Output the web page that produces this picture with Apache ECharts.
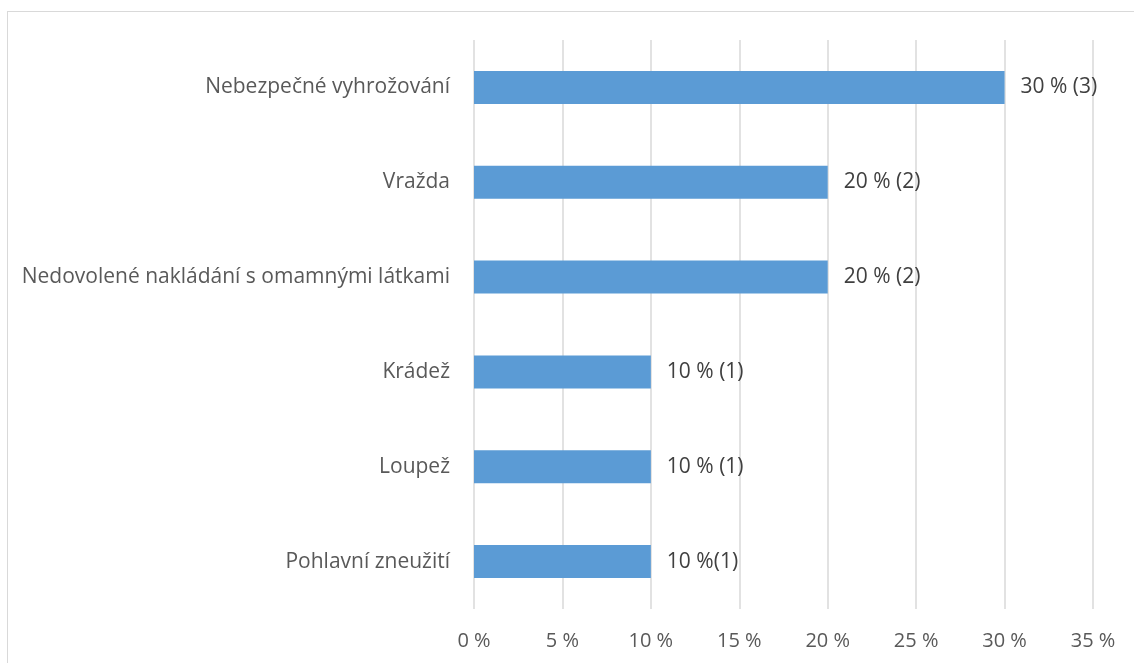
<!DOCTYPE html>
<html><head><meta charset="utf-8">
<script src="https://cdn.jsdelivr.net/npm/echarts@6/dist/echarts.min.js"></script>
<style>
html,body{margin:0;padding:0;background:#fff;}
#frame{position:absolute;left:7px;top:11px;width:1200px;height:700px;border:1px solid #d9d9d9;box-sizing:border-box;}
#c{position:absolute;left:0;top:0;width:1134px;height:663px;}
</style></head>
<body>
<div id="frame"></div>
<div id="c"></div>
<script>
const categories = ['Nebezpečné vyhrožování','Vražda','Nedovolené nakládání s omamnými látkami','Krádež','Loupež','Pohlavní zneužití'];
const values = [30,20,20,10,10,10];
const valueLabels = ['30 % (3)','20 % (2)','20 % (2)','10 % (1)','10 % (1)','10 %(1)'];
const xTicks = {min:0,max:35,interval:5};

const FONT = 'Open Sans';
const chart = echarts.init(document.getElementById('c'));
chart.setOption({
  animation:false,
  grid:{left:474,right:41,top:40,bottom:54,containLabel:false},
  xAxis:{type:'value',min:xTicks.min,max:xTicks.max,interval:xTicks.interval,
    axisLine:{show:false},axisTick:{show:false},
    splitLine:{show:true,lineStyle:{color:'#d9d9d9',width:1.5}},
    axisLabel:{formatter:v=>v+' %',color:'#595959',fontFamily:FONT,fontSize:20,margin:22}},
  yAxis:{type:'category',data:categories,inverse:true,
    axisLine:{show:false},axisTick:{show:false},
    axisLabel:{color:'#595959',fontFamily:FONT,fontSize:21,margin:24}},
  series:[{type:'bar',barWidth:33,
    data:values.map((v,i)=>({value:v,label:{formatter:valueLabels[i]}})),
    itemStyle:{color:'#5B9BD5'},
    label:{show:true,position:'right',distance:16,color:'#404040',fontFamily:FONT,fontSize:21}}]
});
</script>
</body></html>
